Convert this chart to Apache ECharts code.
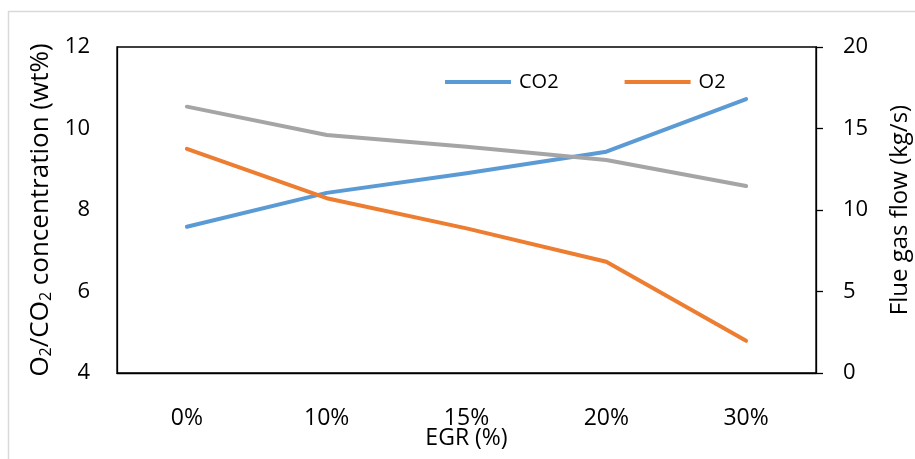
<!DOCTYPE html>
<html>
<head>
<meta charset="utf-8">
<script src="https://cdn.jsdelivr.net/npm/echarts@6/dist/echarts.min.js"></script>
<style>
html,body{margin:0;padding:0;background:#fff;}
#chart{width:915px;height:459px;}
</style>
</head>
<body>
<div id="chart"></div>
<script>
const categories = ['0%', '10%', '15%', '20%', '30%'];
const co2Values = [7.59, 8.42, 8.90, 9.43, 10.72];
const o2Values = [9.50, 8.29, 7.55, 6.73, 4.79];
const flueGasValues = [16.34, 14.60, 13.88, 13.07, 11.47];
const leftTicks = [4, 6, 8, 10, 12];
const rightTicks = [0, 5, 10, 15, 20];

const FONT = 'Open Sans';
const chart = echarts.init(document.getElementById('chart'), null, {renderer: 'canvas'});
chart.setOption({
  backgroundColor: '#fff',
  animation: false,
  graphic: [{
    type: 'rect',
    shape: {x: 8.5, y: 11.5, width: 1000, height: 1000},
    style: {fill: 'none', stroke: '#d9d9d9', lineWidth: 1.5},
    silent: true, z: -10
  }],
  grid: {left: 117, right: 99, top: 47, bottom: 86, containLabel: false, outerBoundsMode: 'none',
    show: true, borderColor: '#000', borderWidth: 1.3, backgroundColor: 'transparent'},
  legend: {
    data: ['CO2', 'O2'],
    left: 440, top: 67,
    icon: 'rect', itemWidth: 66, itemHeight: 4, itemGap: 66,
    textStyle: {fontFamily: FONT, fontSize: 20, color: '#000', padding: [0, 0, 0, 3]}
  },
  xAxis: {
    type: 'category', data: categories, boundaryGap: true,
    axisLine: {show: true, lineStyle: {color: '#000', width: 1.3}},
    axisTick: {show: false},
    axisLabel: {fontFamily: FONT, fontSize: 23, color: '#000', margin: 34},
    name: 'EGR (%)', nameLocation: 'middle', nameGap: 54, nameMoveOverlap: false,
    nameTextStyle: {fontFamily: FONT, fontSize: 23, color: '#000'}
  },
  yAxis: [{
    type: 'value', min: leftTicks[0], max: leftTicks[leftTicks.length - 1], interval: 2,
    position: 'left',
    axisLine: {show: true, lineStyle: {color: '#000', width: 1.3}},
    axisTick: {show: false},
    splitLine: {show: false},
    axisLabel: {fontFamily: FONT, fontSize: 22, color: '#000', margin: 27, padding: [10, 0, 0, 0]},
    name: 'O{sub|2}/CO{sub|2} concentration (wt%)', nameLocation: 'middle', nameGap: 63, nameMoveOverlap: false,
    nameTextStyle: {
      fontFamily: FONT, fontSize: 26, color: '#000',
      rich: {sub: {fontFamily: FONT, fontSize: 16, color: '#000', verticalAlign: 'bottom', padding: [9, 0, 0, 0]}}
    }
  }, {
    type: 'value', min: rightTicks[0], max: rightTicks[rightTicks.length - 1], interval: 5,
    position: 'right',
    axisLine: {show: true, lineStyle: {color: '#000', width: 1.3}},
    axisTick: {show: true, inside: false, length: 7, lineStyle: {color: '#000', width: 1.3}},
    splitLine: {show: false},
    axisLabel: {fontFamily: FONT, fontSize: 22, color: '#000', margin: 27, padding: [6, 0, 0, 0]},
    name: 'Flue gas flow (kg/s)', nameLocation: 'middle', nameGap: 72, nameMoveOverlap: false,
    nameTextStyle: {fontFamily: FONT, fontSize: 24, color: '#000'}
  }],
  series: [{
    name: 'CO2', type: 'line', data: co2Values, yAxisIndex: 0,
    showSymbol: false, symbol: 'none', color: '#5B9BD5',
    lineStyle: {width: 4, color: '#5B9BD5', cap: 'round', join: 'round'}
  }, {
    name: 'O2', type: 'line', data: o2Values, yAxisIndex: 0,
    showSymbol: false, symbol: 'none', color: '#ED7D31',
    lineStyle: {width: 4, color: '#ED7D31', cap: 'round', join: 'round'}
  }, {
    name: 'Flue gas flow', type: 'line', data: flueGasValues, yAxisIndex: 1,
    showSymbol: false, symbol: 'none', color: '#A5A5A5',
    lineStyle: {width: 4, color: '#A5A5A5', cap: 'round', join: 'round'}
  }]
});
</script>
</body>
</html>
